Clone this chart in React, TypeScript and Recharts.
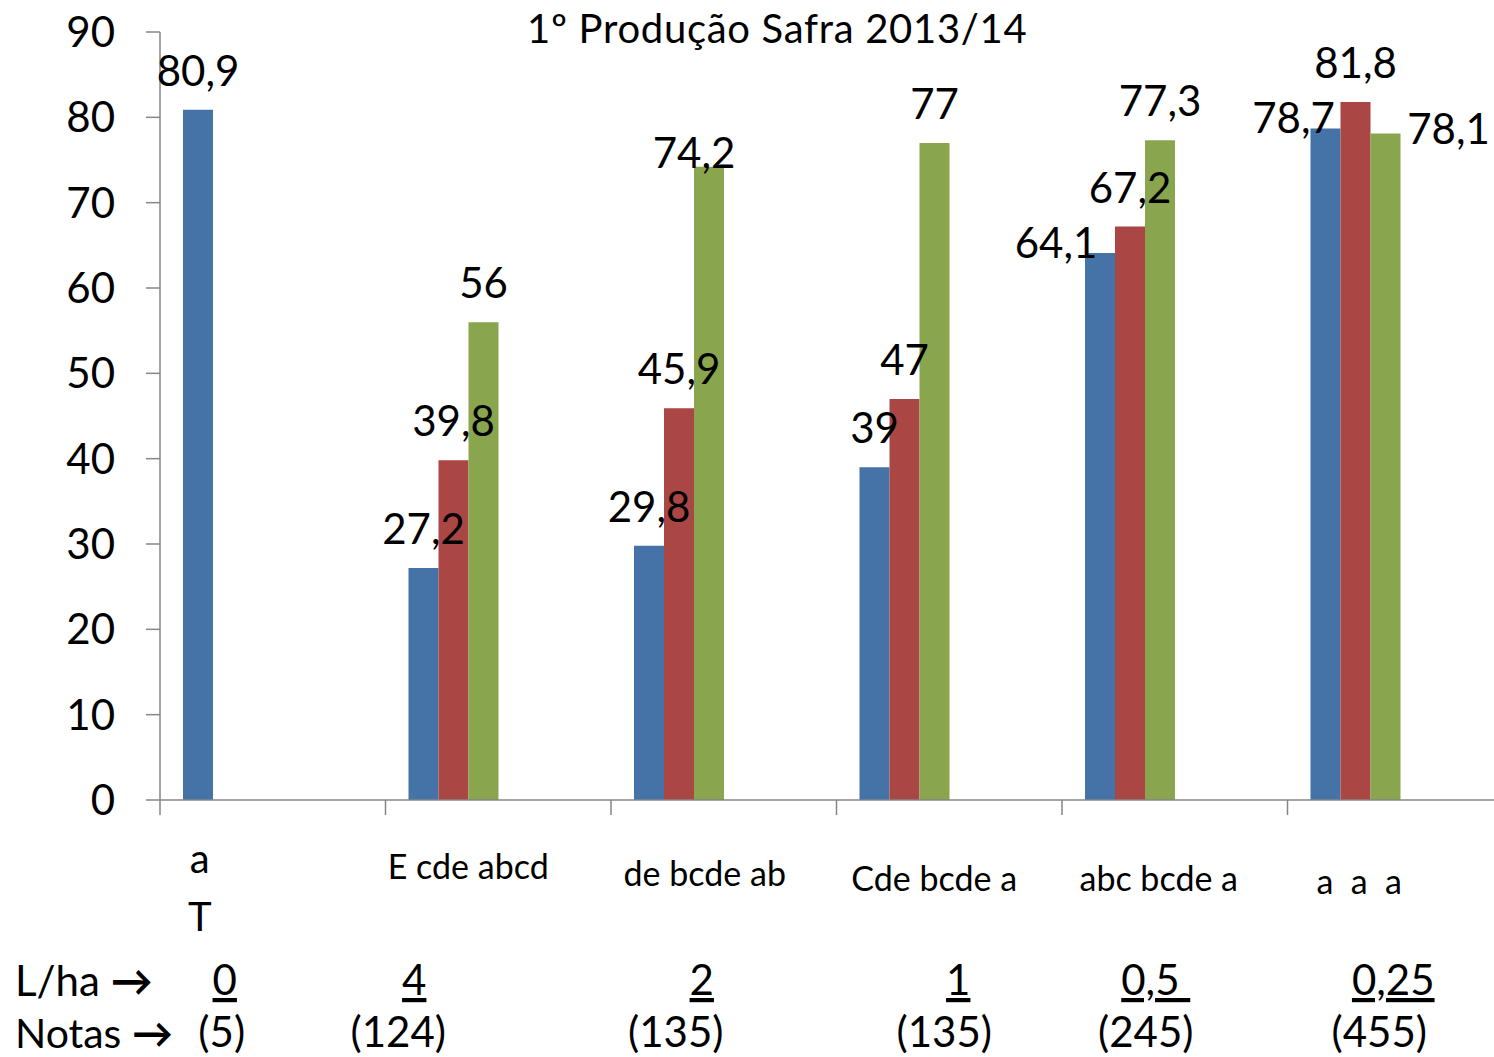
import { BarChart, Bar, XAxis, YAxis, LabelList } from 'recharts'

// ─── Data ─────────────────────────────────────────────────────────────────────

const doses = ['0', '4', '2', '1', '0,5 ', '0,25']
const notas = ['(5)', '(124)', '(135)', '(135)', '(245)', '(455)']
const letters = [['a', 'T'], ['E cde abcd'], ['de bcde ab'], ['Cde bcde a'], ['abc bcde a'], ['a  a  a']]

const serieAzul = [80.9, 27.2, 29.8, 39, 64.1, 78.7]
const serieVermelha = [null, 39.8, 45.9, 47, 67.2, 81.8]
const serieVerde = [null, 56, 74.2, 77, 77.3, 78.1]

const yTicks = [0, 10, 20, 30, 40, 50, 60, 70, 80, 90]

const chartData = doses.map((dose, i) => ({
  dose,
  azul: serieAzul[i],
  vermelha: serieVermelha[i],
  verde: serieVerde[i],
}))

// ─── Layout ───────────────────────────────────────────────────────────────────

const FONT = 'Lato, "Open Sans", sans-serif'
const AXIS = '#868686'
const CHART_W = 1540
const CHART_H = 1057
const MARGIN = { top: 32, right: 27, left: 0, bottom: 0 }
const Y_AXIS_W = 160
const BAND = (CHART_W - MARGIN.left - MARGIN.right - Y_AXIS_W) / doses.length

// hand-placed text boxes in the original (offsets from category centre)
const LETTER_POS = [
  { dx: -73, dy: 58 },
  { dx: -30, dy: 65 },
  { dx: -19, dy: 72 },
  { dx: -15, dy: 77 },
  { dx: -16, dy: 77 },
  { dx: -41, dy: 80 },
]
const DOSE_DX = [-48, -84, -22, 9, -19, -7]
const NOTA_DX = [-51, -100, -48, -5, -29, -21]

// labels moved by hand in the original, keyed by series + category: [dx, dy]
const NUDGE: Record<string, [number, number]> = {
  'azul-0,5 ': [-44, 29],
  'azul-0,25': [-32, 29],
  'verde-2': [-15, 25],
  'verde-0,25': [63, 34],
}

const fmt = (v: number) => String(v).replace('.', ',')

const makeLabel = (key: 'azul' | 'vermelha' | 'verde') => (props: any) => {
  const { value } = props
  if (value == null) return null
  const vb = props.viewBox || {}
  const x = props.x ?? vb.x
  const y = props.y ?? vb.y
  const width = props.width ?? vb.width
  const row = chartData.find((d) => d[key] === value)
  const [dx, dy] = (row && NUDGE[`${key}-${row.dose}`]) || [0, 0]
  return (
    <text
      x={x + width / 2 + dx}
      y={y - 24 + dy}
      textAnchor="middle"
      fontFamily={FONT}
      fontSize={42}
      fill="#000"
    >
      {fmt(value)}
    </text>
  )
}

function CategoryTick(props: any) {
  const { x, y, index } = props
  const pos = LETTER_POS[index]
  const lines = letters[index]
  const big = lines.length > 1
  return (
    <g>
      <line x1={x - BAND / 2} x2={x - BAND / 2} y1={y} y2={y + 15} stroke={AXIS} strokeWidth={1.5} />
      {lines.map((t, k) => (
        <text
          key={k}
          x={x + pos.dx}
          y={y + pos.dy + k * 58}
          textAnchor="middle"
          dominantBaseline="central"
          fontFamily={FONT}
          fontSize={big ? 40 : 34}
          fill="#000"
          style={{ whiteSpace: 'pre' }}
        >
          {t}
        </text>
      ))}
      <text
        x={x + DOSE_DX[index]}
        y={y + 195}
        textAnchor="middle"
        fontFamily={FONT}
        fontSize={42}
        fill="#000"
        style={{ textDecoration: 'underline', whiteSpace: 'pre' }}
      >
        {doses[index]}
      </text>
      <text
        x={x + NOTA_DX[index]}
        y={y + 247}
        textAnchor="middle"
        fontFamily={FONT}
        fontSize={42}
        fill="#000"
      >
        {notas[index]}
      </text>
    </g>
  )
}

// ─── Component ────────────────────────────────────────────────────────────────

export default function App() {
  return (
    <div
      style={{
        position: 'absolute',
        left: 0,
        top: 0,
        width: 1494,
        height: 1057,
        overflow: 'hidden',
        background: '#fff',
        fontFamily: FONT,
      }}
    >
      <BarChart
        width={CHART_W}
        height={CHART_H}
        data={chartData}
        margin={MARGIN}
        barSize={30}
        barGap={0}
      >
        <XAxis
          dataKey="dose"
          stroke={AXIS}
          strokeWidth={1.5}
          tickLine={false}
          tickSize={0}
          tickMargin={0}
          height={257}
          interval={0}
          tick={<CategoryTick />}
        />
        <YAxis
          width={Y_AXIS_W}
          domain={[0, 90]}
          ticks={yTicks}
          interval={0}
          stroke={AXIS}
          strokeWidth={1.5}
          tickSize={14}
          tickMargin={31}
          tick={{ fill: '#000', fontSize: 42, fontFamily: FONT }}
        />
        <Bar dataKey="azul" fill="#4572A7" isAnimationActive={false}>
          <LabelList dataKey="azul" content={makeLabel('azul')} />
        </Bar>
        <Bar dataKey="vermelha" fill="#AA4643" isAnimationActive={false}>
          <LabelList dataKey="vermelha" content={makeLabel('vermelha')} />
        </Bar>
        <Bar dataKey="verde" fill="#89A54E" isAnimationActive={false}>
          <LabelList dataKey="verde" content={makeLabel('verde')} />
        </Bar>
        {/* empty series slots kept by the original chart (they push the bars left) */}
        <Bar dataKey="vazia1" fill="#71588F" isAnimationActive={false} />
        <Bar dataKey="vazia2" fill="#4198AF" isAnimationActive={false} />
        <Bar dataKey="vazia3" fill="#DB843D" isAnimationActive={false} />
      </BarChart>

      <div
        style={{
          position: 'absolute',
          left: 527,
          top: 4,
          fontSize: 40,
          lineHeight: '48px',
          letterSpacing: 0.7,
          whiteSpace: 'nowrap',
          color: '#000',
        }}
      >
        1º Produção Safra 2013/14
      </div>
      <div style={{ position: 'absolute', left: 15, top: 959, fontSize: 42, lineHeight: '42px', whiteSpace: 'nowrap' }}>
        L/ha <span style={{ fontWeight: 700 }}>→</span>
      </div>
      <div style={{ position: 'absolute', left: 15, top: 1012, fontSize: 41, lineHeight: '42px', whiteSpace: 'nowrap' }}>
        Notas <span style={{ fontWeight: 700 }}>→</span>
      </div>
    </div>
  )
}
